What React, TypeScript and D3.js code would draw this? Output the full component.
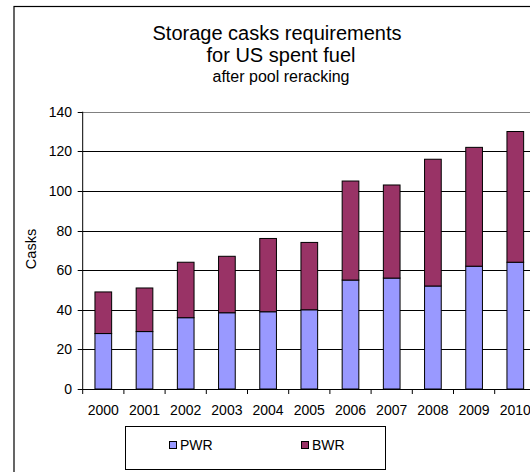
import React from "react";
import * as d3 from "d3";

const years = ["2000", "2001", "2002", "2003", "2004", "2005", "2006", "2007", "2008", "2009", "2010"];
const pwr = [28, 29, 36, 38.5, 39, 40, 55, 56, 52, 62, 64];
const bwr = [21, 22, 28, 28.5, 37, 34, 50, 47, 64, 60, 66];
const yTicks = [0, 20, 40, 60, 80, 100, 120, 140];
const seriesNames = ["PWR", "BWR"];
const colors = ["#9999FF", "#993366"];

const W = 530;
const H = 472;
const FONT = "'Liberation Sans', Arial, sans-serif";

export default function App() {
  const x0 = 82.7;
  const step = 41.2;
  const x = d3.scaleBand<string>().domain(years).range([x0, x0 + step * years.length]).paddingInner(0).paddingOuter(0);
  const y = d3.scaleLinear().domain([0, 140]).range([389, 111.7]);
  const barW = x.bandwidth() * 0.405;

  const rows = years.map((yr, i) => ({ yr, PWR: pwr[i], BWR: bwr[i] }));
  const stack = d3.stack<any>().keys(seriesNames)(rows);

  const plotRight = x0 + step * years.length;

  return (
    <svg width={W} height={H} style={{ position: "absolute", left: 0, top: 0, background: "#fff" }} fontFamily={FONT}>
      <rect x={0} y={0} width={W} height={H} fill="#fff" />
      {/* chart area border */}
      <rect x={14} y={6.5} width={560} height={520} fill="none" stroke="#000" strokeWidth={1.2} />
      {/* title */}
      <text x={277} y={40} textAnchor="middle" fontSize={20} fill="#000">Storage casks requirements</text>
      <text x={281} y={62} textAnchor="middle" fontSize={20} fill="#000">for US spent fuel</text>
      <text x={281} y={82} textAnchor="middle" fontSize={16} fill="#000">after pool reracking</text>

      {/* gridlines */}
      {yTicks.filter((t) => t > 0 && t < 140).map((t) => (
        <line key={t} x1={x0} x2={plotRight} y1={Math.round(y(t)) + 0.5} y2={Math.round(y(t)) + 0.5} stroke="#000" strokeWidth={1} />
      ))}
      {/* plot area top border */}
      <line x1={x0} x2={plotRight} y1={Math.round(y(140)) + 0.5} y2={Math.round(y(140)) + 0.5} stroke="#808080" strokeWidth={1.2} />

      {/* bars */}
      {stack.map((s, si) => (
        <g key={s.key}>
          {s.map((d, i) => (
            <rect
              key={i}
              x={(x(years[i]) as number) + (x.bandwidth() - barW) / 2}
              y={y(d[1])}
              width={barW}
              height={y(d[0]) - y(d[1])}
              fill={colors[si]}
              stroke="#000"
              strokeWidth={1}
            />
          ))}
        </g>
      ))}

      {/* y axis */}
      <line x1={x0} x2={x0} y1={y(140)} y2={y(0)} stroke="#000" strokeWidth={1} />
      {yTicks.map((t) => (
        <g key={t}>
          <line x1={x0 - 5} x2={x0} y1={Math.round(y(t)) + 0.5} y2={Math.round(y(t)) + 0.5} stroke="#000" strokeWidth={1} />
          <text x={72} y={y(t) + 5} textAnchor="end" fontSize={14} fill="#000">{t}</text>
        </g>
      ))}
      <text transform={`translate(36,249) rotate(-90)`} textAnchor="middle" fontSize={14.5} fill="#000">Casks</text>

      {/* x axis */}
      <line x1={x0} x2={plotRight} y1={Math.round(y(0)) + 0.5} y2={Math.round(y(0)) + 0.5} stroke="#000" strokeWidth={1} />
      {years.map((yr, i) => (
        <g key={yr}>
          <line x1={x0 + step * (i + 1)} x2={x0 + step * (i + 1)} y1={y(0)} y2={y(0) + 5} stroke="#000" strokeWidth={1} />
          <text x={(x(yr) as number) + x.bandwidth() / 2} y={415} textAnchor="middle" fontSize={14} fill="#000">{yr}</text>
        </g>
      ))}
      <line x1={x0} x2={x0} y1={y(0)} y2={y(0) + 5} stroke="#000" strokeWidth={1} />

      {/* legend */}
      <rect x={125.5} y={426.5} width={260} height={43} fill="#fff" stroke="#000" strokeWidth={1} />
      {seriesNames.map((n, i) => (
        <g key={n}>
          <rect x={169.5 + i * 132} y={441.5} width={7} height={7} fill={colors[i]} stroke="#000" strokeWidth={1} />
          <text x={180 + i * 132} y={450} fontSize={14} fill="#000">{n}</text>
        </g>
      ))}
    </svg>
  );
}
